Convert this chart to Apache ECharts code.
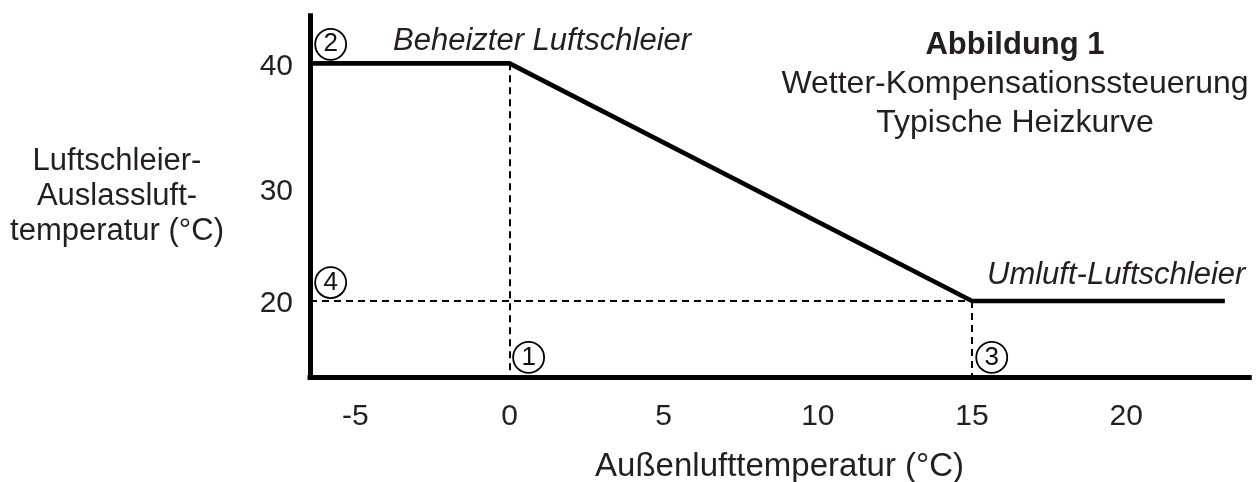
<!DOCTYPE html>
<html>
<head>
<meta charset="utf-8">
<script src="https://cdn.jsdelivr.net/npm/echarts@6/dist/echarts.min.js"></script>
<style>
  html, body { margin: 0; padding: 0; background: #fff; }
  #main { width: 1257px; height: 482px; }
</style>
</head>
<body>
<div id="main"></div>
<script>
// Heizkurve
const curveX = [-6.47, 0, 15, 23.2];
const curveY = [40, 40, 20, 20];
const xTicks = [-5, 0, 5, 10, 15, 20];
const yTicks = [20, 30, 40];
// nummerierte Kreise
const markerText = ['1', '2', '3', '4'];
const markerX = [0.62, -5.8, 15.64, -5.8];
const markerY = [15.26, 41.6, 15.26, 21.56];

const xMin = -6.47, xMax = 23.99, yMin = 13.57, yMax = 44.0;
const ink = '#231f20';
const font = '"Liberation Sans", Arial, sans-serif';

const chart = echarts.init(document.getElementById('main'));

const option = {
  animation: false,
  backgroundColor: '#fff',
  title: {
    text: 'Abbildung 1',
    subtext: 'Wetter-Kompensationssteuerung\nTypische Heizkurve',
    left: 1015,
    top: 30,
    textAlign: 'center',
    itemGap: 4,
    padding: 0,
    textStyle: { fontFamily: font, fontSize: 31, fontWeight: 'bold', color: ink, lineHeight: 30 },
    subtextStyle: { fontFamily: font, fontSize: 32, color: ink, lineHeight: 38.5 }
  },
  grid: {
    left: 310, right: 7.8, top: 15.8, bottom: 104.5,
    containLabel: false,
    outerBoundsMode: 'none'
  },
  xAxis: {
    type: 'value',
    min: xMin,
    max: xMax,
    name: 'Außenlufttemperatur (°C)',
    nameLocation: 'middle',
    nameGap: 89,
    nameTextStyle: { fontFamily: font, fontSize: 33, color: ink, verticalAlign: 'middle' },
    axisLine: { show: true, onZero: false, lineStyle: { color: '#000', width: 5, cap: 'square' } },
    axisTick: { show: false },
    splitLine: { show: false },
    axisLabel: {
      customValues: xTicks,
      margin: 24.5,
      fontFamily: font,
      fontSize: 30,
      color: ink
    }
  },
  yAxis: {
    type: 'value',
    min: yMin,
    max: yMax,
    name: 'Luftschleier-\nAuslassluft-\ntemperatur (°C)',
    nameLocation: 'middle',
    nameRotate: 0,
    nameGap: 193,
    nameTextStyle: {
      fontFamily: font, fontSize: 31, color: ink, align: 'center', verticalAlign: 'middle',
      lineHeight: 35, padding: [6, 0, 0, 0]
    },
    axisLine: { show: true, onZero: false, lineStyle: { color: '#000', width: 5, cap: 'square' } },
    axisTick: { show: false },
    splitLine: { show: false },
    axisLabel: {
      customValues: yTicks,
      margin: 17,
      formatter: v => (v === 30 ? '{m|30}' : '{n|' + v + '}'),
      rich: {
        n: { fontFamily: font, fontSize: 30, color: ink, padding: [6, 0, 0, 0] },
        m: { fontFamily: font, fontSize: 30, color: ink, padding: [20, 0, 0, 0] }
      }
    }
  },
  series: [
    {
      type: 'line',
      data: curveX.map((x, i) => [x, curveY[i]]),
      showSymbol: false,
      symbol: 'none',
      lineStyle: { color: '#000', width: 4.6, join: 'miter' },
      z: 3,
      markLine: {
        silent: true,
        symbol: 'none',
        label: { show: false },
        lineStyle: { color: '#000', width: 2, type: [7, 5] },
        data: [
          [{ coord: [0, 40] }, { coord: [0, yMin] }],
          [{ coord: [xMin, 20] }, { coord: [15, 20] }],
          [{ coord: [15, 20] }, { coord: [15, yMin] }]
        ]
      }
    },
    {
      type: 'scatter',
      data: markerX.map((x, i) => [x, markerY[i], markerText[i]]),
      symbol: 'circle',
      symbolSize: 31,
      itemStyle: { color: '#fff', borderColor: '#000', borderWidth: 1.8, opacity: 1 },
      label: {
        show: true,
        position: 'inside',
        formatter: p => p.data[2],
        fontFamily: font,
        fontSize: 26,
        color: '#111',
        opacity: 1,
        textBorderWidth: 0,
        padding: [3, 0, 0, 0]
      },
      z: 4
    }
  ],
  graphic: [
    {
      type: 'text',
      left: 393,
      top: 26,
      style: { text: 'Beheizter Luftschleier', font: 'italic 31px ' + font, fill: ink }
    },
    {
      type: 'text',
      left: 987,
      top: 260,
      style: { text: 'Umluft-Luftschleier', font: 'italic 31px ' + font, fill: ink }
    }
  ]
};

chart.setOption(option);
</script>
</body>
</html>
